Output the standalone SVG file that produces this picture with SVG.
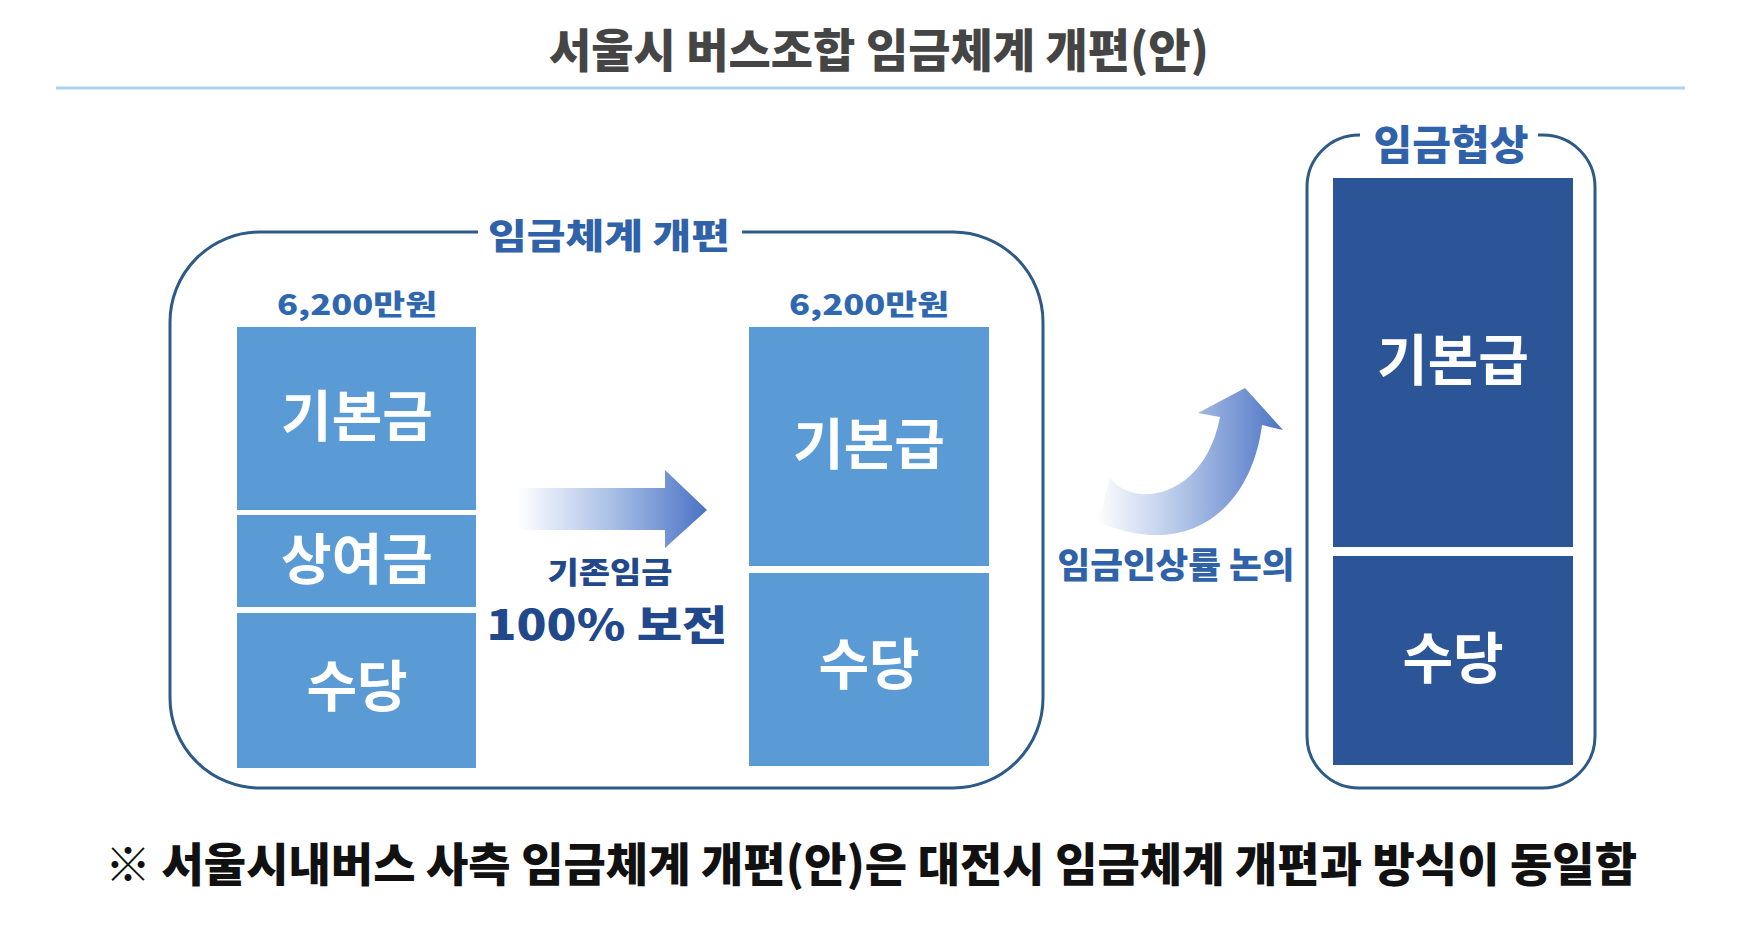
<svg xmlns="http://www.w3.org/2000/svg" width="1764" height="950" viewBox="0 0 1764 950">
  <defs>
    <linearGradient id="gArrow" x1="0" y1="0" x2="1" y2="0">
      <stop offset="0" stop-color="#ffffff"/>
      <stop offset="0.5" stop-color="#a9bfe6"/>
      <stop offset="1" stop-color="#4a72c4"/>
    </linearGradient>
    <linearGradient id="gCurve" gradientUnits="userSpaceOnUse" x1="1095" y1="0" x2="1285" y2="0">
      <stop offset="0" stop-color="#ffffff"/>
      <stop offset="0.45" stop-color="#b3c6e8"/>
      <stop offset="1" stop-color="#4a72c4"/>
    </linearGradient>
  </defs>
  <style>
    text { font-family: "Noto Sans CJK KR", "Noto Sans", sans-serif; text-anchor: middle; }
    .title { font-size: 46px; font-weight: 900; fill: #454545; }
    .grp { font-weight: 900; fill: #2f62a8; }
    .amt { font-size: 28px; font-weight: 900; fill: #3068b0; }
    .seg { font-size: 55px; font-weight: 700; fill: #ffffff; }
    .light { fill: #5b9bd5; }
    .dark { fill: #2b5597; }
    .frame { fill: none; stroke: #2d5a86; stroke-width: 3; }
    .mask { fill: #ffffff; }
    .note { font-size: 46px; font-weight: 900; fill: #111111; }
    .keep { font-weight: 900; fill: #22488c; }
  </style>
  <rect width="1764" height="950" fill="#ffffff"/>

  <g id="title">
    <text class="title" x="879" y="67" textLength="660" lengthAdjust="spacingAndGlyphs">서울시 버스조합 임금체계 개편(안)</text>
    <line x1="56" y1="88" x2="1685" y2="88" stroke="#a9d3ea" stroke-width="3"/>
  </g>

  <g id="reform-group">
    <rect class="frame" x="170" y="232" width="873" height="556" rx="90" ry="90"/>
    <rect class="mask" x="478" y="222" width="264" height="20"/>
    <text class="grp" x="609" y="249" font-size="35" textLength="242" lengthAdjust="spacingAndGlyphs">임금체계 개편</text>
  </g>

  <g id="before-column">
    <text class="amt" x="357" y="315" textLength="160" lengthAdjust="spacingAndGlyphs">6,200만원</text>
    <rect class="light" x="237" y="327" width="239" height="183"/>
    <rect class="light" x="237" y="515" width="239" height="92"/>
    <rect class="light" x="237" y="613" width="239" height="155"/>
    <text class="seg" x="357" y="436">기본금</text>
    <text class="seg" x="357" y="579">상여금</text>
    <text class="seg" x="357" y="706">수당</text>
  </g>

  <g id="after-column">
    <text class="amt" x="869" y="315" textLength="160" lengthAdjust="spacingAndGlyphs">6,200만원</text>
    <rect class="light" x="749" y="327" width="240" height="239"/>
    <rect class="light" x="749" y="573" width="240" height="193"/>
    <text class="seg" x="869" y="464">기본급</text>
    <text class="seg" x="869" y="684">수당</text>
  </g>

  <g id="negotiation-group">
    <rect class="frame" x="1307" y="135" width="288" height="653" rx="52" ry="52"/>
    <rect class="mask" x="1360" y="122" width="178" height="26"/>
    <text class="grp" x="1451" y="160" font-size="41" textLength="155" lengthAdjust="spacingAndGlyphs">임금협상</text>
    <rect class="dark" x="1333" y="178" width="240" height="369"/>
    <rect class="dark" x="1333" y="556" width="240" height="209"/>
    <text class="seg" x="1453" y="380">기본급</text>
    <text class="seg" x="1453" y="678">수당</text>
  </g>

  <g id="connectors">
    <path d="M517 488 L665 488 L665 470 L707 510 L665 548 L665 530 L517 530 Z" fill="url(#gArrow)"/>
    <text class="keep" x="610" y="583" font-size="30" textLength="125" lengthAdjust="spacingAndGlyphs">기존임금</text>
    <text class="keep" x="607" y="640" font-size="41" textLength="241" lengthAdjust="spacingAndGlyphs">100% 보전</text>

    <path d="M1110 478 C1135 510 1205 497 1220 417 L1198 413 L1245 388 L1283 430 L1262 425 C1252 505 1192 562 1098 522 Z" fill="url(#gCurve)"/>
    <text class="grp" x="1176" y="578" font-size="35" textLength="237" lengthAdjust="spacingAndGlyphs">임금인상률 논의</text>
  </g>

  <g id="footnote">
    <text class="note" x="871" y="881" textLength="1532" lengthAdjust="spacingAndGlyphs">※ 서울시내버스 사측 임금체계 개편(안)은 대전시 임금체계 개편과 방식이 동일함</text>
  </g>
</svg>
